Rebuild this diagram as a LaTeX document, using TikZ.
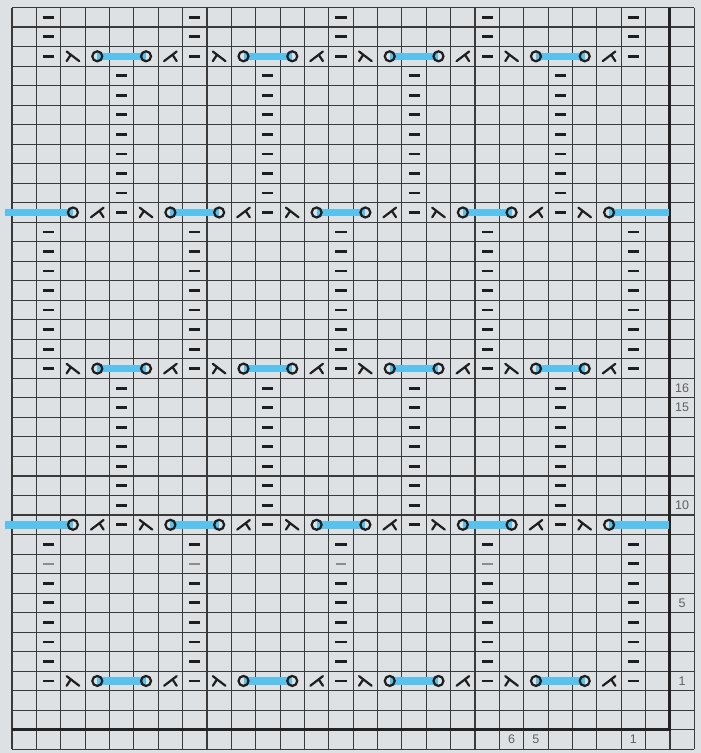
\documentclass[tikz,border=0pt]{standalone}
\usepackage{fontspec}
\setmainfont{Liberation Sans}
\definecolor{bg}{RGB}{222,225,228}
\definecolor{gridc}{RGB}{58,58,58}
\definecolor{thickc}{RGB}{35,35,35}
\definecolor{symc}{RGB}{30,30,30}
\definecolor{faintc}{RGB}{140,140,140}
\definecolor{bluebar}{RGB}{88,194,236}
\definecolor{numc}{RGB}{95,95,95}
\tikzset{
  purl/.pic={\path[purlmark] (-5.6,0) -- (5.6,0);},
  faintpurl/.pic={\path[purlmark,draw=faintc,line width=1.4pt] (-5.4,0) -- (5.4,0);},
  sskmark/.pic={\path[sym] (-6.3,-4.8) -- (6.3,4.8) (-2.1,-1.6) -- (-6.3,4.8);},
  ktogmark/.pic={\path[sym] (6.3,-4.8) -- (-6.3,4.8) (2.1,-1.6) -- (6.3,4.8);},
  yomark/.pic={\path[sym] (0,0) circle (5);},
}
\begin{document}
\begin{tikzpicture}[x=1pt,y=-1pt,
  gridline/.style={draw=gridc,line width=1.1pt},
  thickline/.style={draw=thickc,line width=3pt,line join=miter},
  sym/.style={draw=symc,line width=2.2pt,line cap=round},
  purlmark/.style={draw=symc,line width=2.8pt},
  bar/.style={draw=bluebar,line width=7.5pt},
  numlabel/.style={text=numc,font=\fontsize{12.5}{13}\selectfont,inner sep=0pt},
  declare function={cx(\i)=12+24.37*(\i+0.5); cy(\j)=7.5+19.52*(\j+0.5); gx(\i)=12+24.37*\i; gy(\j)=7.5+19.52*\j;}
]
\useasboundingbox (0,0) rectangle (701,753);
\fill[bg] (0,0) rectangle (701,753);
% grid
\foreach \i in {0,...,28} \draw[gridline] ({gx(\i)},{gy(0)}) -- ({gx(\i)},{gy(38)});
\foreach \j in {0,...,38} \draw[gridline] ({gx(0)},{gy(\j)}) -- ({gx(28)},{gy(\j)});
\draw[thickline] ({gx(27)},{gy(0)}) -- ({gx(27)},{gy(37)}) -- ({gx(0)},{gy(37)});
% blue bars, rows A
\foreach \j in {2,18,34}
  \foreach \a in {3,9,15,21}
    \draw[bar] ({cx(\a)},{cy(\j)}) -- ({cx(\a+2)},{cy(\j)});
% blue bars, rows B
\foreach \j in {10,26} {
  \foreach \a in {6,12,18}
    \draw[bar] ({cx(\a)},{cy(\j)}) -- ({cx(\a+2)},{cy(\j)});
  \draw[bar] (5,{cy(\j)}) -- ({cx(2)},{cy(\j)});
  \draw[bar] ({cx(24)},{cy(\j)}) -- (668.5,{cy(\j)});
}
% rows A
\foreach \j in {2,18,34} {
  \foreach \c in {1,7,13,19,25} \pic at ({cx(\c)},{cy(\j)}) {purl};
  \foreach \c in {2,8,14,20} \pic at ({cx(\c)},{cy(\j)}) {sskmark};
  \foreach \c in {3,5,9,11,15,17,21,23} \pic at ({cx(\c)},{cy(\j)}) {yomark};
  \foreach \c in {6,12,18,24} \pic at ({cx(\c)},{cy(\j)}) {ktogmark};
}
% rows B
\foreach \j in {10,26} {
  \foreach \c in {2,6,8,12,14,18,20,24} \pic at ({cx(\c)},{cy(\j)}) {yomark};
  \foreach \c in {3,9,15,21} \pic at ({cx(\c)},{cy(\j)}) {ktogmark};
  \foreach \c in {4,10,16,22} \pic at ({cx(\c)},{cy(\j)}) {purl};
  \foreach \c in {5,11,17,23} \pic at ({cx(\c)},{cy(\j)}) {sskmark};
}
% purl columns X
\foreach \j in {0,1,11,12,13,14,15,16,17,27,29,30,31,32,33}
  \foreach \c in {1,7,13,19,25} \pic at ({cx(\c)},{cy(\j)}) {purl};
\foreach \c in {1,7,13,19} \pic at ({cx(\c)},{cy(28)}) {faintpurl};
\pic at ({cx(25)},{cy(28)}) {purl};
% purl columns Y
\foreach \j in {3,4,5,6,7,8,9,19,20,21,22,23,24,25}
  \foreach \c in {4,10,16,22} \pic at ({cx(\c)},{cy(\j)}) {purl};
% row numbers
\node[numlabel] (r16) at ({cx(27)},{cy(19)}) {16};
\node[numlabel] (r15) at ({cx(27)},{cy(20)}) {15};
\node[numlabel] (r10) at ({cx(27)},{cy(25)}) {10};
\node[numlabel] (r5) at ({cx(27)},{cy(30)}) {5};
\node[numlabel] (r1) at ({cx(27)},{cy(34)}) {1};
% stitch numbers
\node[numlabel] (c6) at ({cx(20)},{cy(37)}) {6};
\node[numlabel] (c5) at ({cx(21)},{cy(37)}) {5};
\node[numlabel] (c1) at ({cx(25)},{cy(37)}) {1};
\end{tikzpicture}
\end{document}
